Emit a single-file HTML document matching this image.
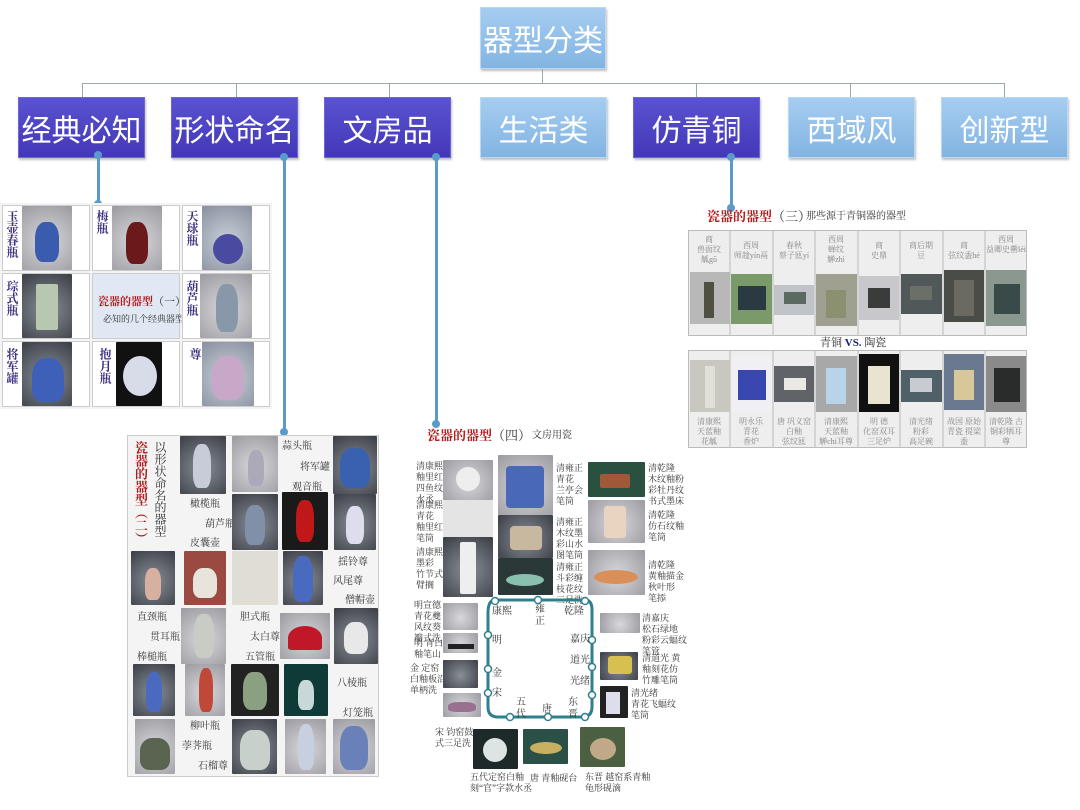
<!DOCTYPE html>
<html><head><meta charset="utf-8">
<style>
*{margin:0;padding:0;box-sizing:border-box}
body{width:1080px;height:810px;background:#fff;position:relative;overflow:hidden;font-family:"Liberation Serif","Noto Serif CJK SC","Noto Sans CJK SC",serif}
.a{position:absolute}
.bx{position:absolute;color:#fff;font-family:"Liberation Sans","Noto Sans CJK SC",sans-serif;font-size:30px;display:flex;align-items:center;justify-content:center;box-shadow:1px 2px 2px rgba(0,0,0,.25)}
.dk{background:linear-gradient(#5a52d0,#4338b8);border:1px solid #6d66d8}
.lt{background:linear-gradient(#a6cdf0,#82b4e2);border:1px solid #b8d8f4}
.ln{position:absolute;background:#5b9bc9}
.dot{position:absolute;width:8px;height:8px;border-radius:50%;background:#5b9bc9}
.p{position:absolute;border-radius:1px}
.g1{background:radial-gradient(circle at 50% 55%,#d8d8dc,#9a9aa0)}
.g2{background:radial-gradient(circle at 50% 55%,#8a8f98,#3a3d44)}
.g3{background:radial-gradient(circle at 50% 55%,#c8d0d8,#8890a0)}
.t{position:absolute;font-size:10px;color:#333;line-height:12px}
.v{writing-mode:vertical-rl;font-size:12px;line-height:13px;font-weight:bold;color:#3a3080}
.red{color:#b01c1c;font-weight:bold}
.cell{position:absolute;border:1px solid #ccc;background:#fff}
.sh{position:absolute;border-radius:40% 40% 30% 30%}
</style></head><body>
<div class="bx lt" style="left:480px;top:7px;width:126px;height:62px;font-size:30px">器型分类</div>
<div class="a" style="left:542px;top:69px;width:1px;height:14px;background:#9aa"></div>
<div class="a" style="left:82px;top:83px;width:922px;height:1px;background:#9aa"></div>
<div class="a" style="left:82px;top:83px;width:1px;height:14px;background:#9aa"></div>
<div class="a" style="left:236px;top:83px;width:1px;height:14px;background:#9aa"></div>
<div class="a" style="left:389px;top:83px;width:1px;height:14px;background:#9aa"></div>
<div class="a" style="left:696px;top:83px;width:1px;height:14px;background:#9aa"></div>
<div class="a" style="left:850px;top:83px;width:1px;height:14px;background:#9aa"></div>
<div class="a" style="left:1004px;top:83px;width:1px;height:14px;background:#9aa"></div>
<div class="bx dk" style="left:18px;top:97px;width:127px;height:61px">经典必知</div>
<div class="bx dk" style="left:171px;top:97px;width:127px;height:61px">形状命名</div>
<div class="bx dk" style="left:324px;top:97px;width:127px;height:61px">文房品</div>
<div class="bx lt" style="left:480px;top:97px;width:127px;height:61px">生活类</div>
<div class="bx dk" style="left:633px;top:97px;width:127px;height:61px">仿青铜</div>
<div class="bx lt" style="left:788px;top:97px;width:127px;height:61px">西域风</div>
<div class="bx lt" style="left:941px;top:97px;width:127px;height:61px">创新型</div>
<div class="ln" style="left:97px;top:155px;width:3px;height:50px"></div><div class="dot" style="left:94px;top:151px"></div><div class="dot" style="left:94px;top:200px"></div>
<div class="ln" style="left:283px;top:155px;width:3px;height:278px"></div><div class="dot" style="left:280px;top:153px"></div><div class="dot" style="left:280px;top:428px"></div>
<div class="ln" style="left:435px;top:155px;width:3px;height:270px"></div><div class="dot" style="left:432px;top:153px"></div><div class="dot" style="left:432px;top:420px"></div>
<div class="ln" style="left:730px;top:155px;width:3px;height:55px"></div><div class="dot" style="left:727px;top:153px"></div><div class="dot" style="left:727px;top:204px"></div>

<div class="a" style="left:0;top:203px;width:272px;height:206px;background:#f4f4f4"></div>
<div class="cell" style="left:2px;top:205px;width:88px;height:66px"></div><div class="p g1" style="left:22px;top:206px;width:50px;height:64px"></div><div class="t v" style="left:5px;top:210px">玉壶春瓶</div><div class="sh" style="left:35px;top:222px;width:24px;height:40px;background:#3a5cae"></div>
<div class="cell" style="left:92px;top:205px;width:88px;height:66px"></div><div class="p g1" style="left:112px;top:206px;width:50px;height:64px"></div><div class="t v" style="left:95px;top:210px">梅瓶</div><div class="sh" style="left:126px;top:222px;width:22px;height:42px;background:#6a1a1a"></div>
<div class="cell" style="left:182px;top:205px;width:88px;height:66px"></div><div class="p g3" style="left:202px;top:206px;width:50px;height:64px"></div><div class="t v" style="left:185px;top:210px">天球瓶</div><div class="sh" style="left:213px;top:234px;width:30px;height:30px;border-radius:50%;background:#4a4aa0"></div>
<div class="cell" style="left:2px;top:273px;width:88px;height:66px"></div><div class="p g2" style="left:22px;top:274px;width:50px;height:64px"></div><div class="t v" style="left:5px;top:280px">琮式瓶</div><div class="sh" style="left:36px;top:284px;width:22px;height:46px;border-radius:2px;background:#b8c8b0"></div>
<div class="cell" style="left:92px;top:273px;width:88px;height:66px;background:#dfe8f3"></div><div class="t red" style="left:98px;top:296px;font-size:11px">瓷器的器型<span style="color:#333;font-weight:normal">（一）</span></div><div class="t" style="left:103px;top:313px;font-size:9px">必知的几个经典器型</div>
<div class="cell" style="left:182px;top:273px;width:88px;height:66px"></div><div class="p g1" style="left:200px;top:274px;width:52px;height:64px"></div><div class="t v" style="left:185px;top:280px">葫芦瓶</div><div class="sh" style="left:216px;top:284px;width:22px;height:48px;background:#8898a8"></div>
<div class="cell" style="left:2px;top:341px;width:88px;height:66px"></div><div class="p g2" style="left:22px;top:342px;width:50px;height:64px"></div><div class="t v" style="left:5px;top:348px">将军罐</div><div class="sh" style="left:32px;top:358px;width:32px;height:44px;background:#3e60b8"></div>
<div class="cell" style="left:92px;top:341px;width:88px;height:66px"></div><div class="p g2" style="left:116px;top:342px;width:46px;height:64px;background:#111"></div><div class="t v" style="left:98px;top:348px">抱月瓶</div><div class="sh" style="left:123px;top:356px;width:34px;height:40px;border-radius:50%;background:#d8dce8"></div>
<div class="cell" style="left:182px;top:341px;width:88px;height:66px"></div><div class="p g3" style="left:202px;top:342px;width:52px;height:64px"></div><div class="t v" style="left:188px;top:348px">尊</div><div class="sh" style="left:212px;top:356px;width:32px;height:44px;background:#c8a8c8"></div>

<div class="a" style="left:127px;top:435px;width:252px;height:342px;background:#f4f4f4;border:1px solid #ccc"></div>
<div class="t red v" style="left:133px;top:441px;font-size:13px;line-height:15px;color:#b01c1c">瓷器的器型（二）</div>
<div class="t v" style="left:153px;top:441px;font-size:12px;line-height:14px;font-weight:normal;color:#333">以形状命名的器型</div>
<div class="p g2" style="left:180px;top:436px;width:46px;height:58px"></div><div class="sh" style="left:193px;top:444px;width:18px;height:44px;background:#c8ccd8"></div>
<div class="p g1" style="left:232px;top:436px;width:46px;height:56px"></div><div class="sh" style="left:248px;top:450px;width:16px;height:36px;background:#aab"></div>
<div class="t" style="left:282px;top:441px">蒜头瓶</div><div class="t" style="left:300px;top:462px">将军罐</div><div class="t" style="left:292px;top:482px">观音瓶</div>
<div class="p g2" style="left:333px;top:436px;width:44px;height:58px"></div><div class="sh" style="left:340px;top:448px;width:30px;height:40px;background:#3a60b0"></div>
<div class="t" style="left:190px;top:499px">橄榄瓶</div><div class="t" style="left:205px;top:519px">葫芦瓶</div><div class="t" style="left:190px;top:538px">皮囊壶</div>
<div class="p g2" style="left:232px;top:494px;width:46px;height:56px"></div><div class="sh" style="left:245px;top:505px;width:20px;height:40px;background:#8090a8"></div>
<div class="p" style="left:282px;top:492px;width:46px;height:58px;background:#1a1a1a"></div><div class="sh" style="left:296px;top:500px;width:18px;height:42px;background:#c01818"></div>
<div class="p g2" style="left:334px;top:494px;width:42px;height:56px"></div><div class="sh" style="left:346px;top:506px;width:18px;height:38px;background:#dde"></div>
<div class="p g2" style="left:131px;top:551px;width:44px;height:54px"></div><div class="sh" style="left:145px;top:568px;width:16px;height:32px;background:#d8b0a0"></div>
<div class="p" style="left:184px;top:551px;width:42px;height:54px;background:#9a4a40"></div><div class="sh" style="left:193px;top:568px;width:24px;height:30px;background:#e8e4dc"></div>
<div class="p g1" style="left:232px;top:551px;width:46px;height:54px;background:#e0ddd4"></div>
<div class="p g2" style="left:283px;top:551px;width:40px;height:54px"></div><div class="sh" style="left:293px;top:556px;width:20px;height:46px;background:#4a6ac0"></div>
<div class="t" style="left:338px;top:557px">揺铃尊</div><div class="t" style="left:333px;top:576px">风尾尊</div><div class="t" style="left:345px;top:595px">僧帽壶</div>
<div class="t" style="left:137px;top:612px">直颈瓶</div><div class="t" style="left:150px;top:632px">贯耳瓶</div><div class="t" style="left:137px;top:652px">棒槌瓶</div>
<div class="p g1" style="left:181px;top:608px;width:45px;height:56px"></div><div class="sh" style="left:194px;top:614px;width:20px;height:44px;background:#c8ccc4"></div>
<div class="t" style="left:240px;top:612px">胆式瓶</div><div class="t" style="left:250px;top:632px">太白尊</div><div class="t" style="left:245px;top:652px">五管瓶</div>
<div class="p g1" style="left:280px;top:613px;width:50px;height:46px"></div><div class="sh" style="left:288px;top:626px;width:34px;height:24px;border-radius:50% 50% 10% 10%;background:#c01828"></div>
<div class="p g2" style="left:334px;top:608px;width:44px;height:56px"></div><div class="sh" style="left:344px;top:622px;width:24px;height:32px;background:#e8e8e8"></div>
<div class="p g2" style="left:133px;top:664px;width:42px;height:52px"></div><div class="sh" style="left:146px;top:672px;width:16px;height:40px;background:#4a6ac0"></div>
<div class="p g1" style="left:185px;top:664px;width:40px;height:52px"></div><div class="sh" style="left:199px;top:668px;width:14px;height:44px;background:#c04838"></div>
<div class="p" style="left:231px;top:664px;width:48px;height:52px;background:#222"></div><div class="sh" style="left:243px;top:672px;width:24px;height:38px;background:#8aa080"></div>
<div class="p" style="left:284px;top:664px;width:44px;height:52px;background:#0e3a38"></div><div class="sh" style="left:298px;top:680px;width:16px;height:30px;background:#c8d8d8"></div>
<div class="t" style="left:337px;top:678px">八棱瓶</div><div class="t" style="left:343px;top:708px">灯笼瓶</div>
<div class="p g1" style="left:135px;top:719px;width:40px;height:55px"></div><div class="sh" style="left:140px;top:738px;width:30px;height:32px;background:#5a6450"></div>
<div class="t" style="left:190px;top:721px">柳叶瓶</div><div class="t" style="left:182px;top:741px">荸荠瓶</div><div class="t" style="left:198px;top:761px">石榴尊</div>
<div class="p g2" style="left:232px;top:719px;width:45px;height:55px"></div><div class="sh" style="left:240px;top:730px;width:30px;height:40px;background:#c8d0cc"></div>
<div class="p g1" style="left:285px;top:719px;width:41px;height:55px"></div><div class="sh" style="left:298px;top:724px;width:16px;height:46px;background:#c8d0e0"></div>
<div class="p g1" style="left:333px;top:719px;width:42px;height:55px"></div><div class="sh" style="left:340px;top:726px;width:28px;height:44px;background:#6a80b8"></div>

<div class="t red" style="left:707px;top:209px;font-size:13px;line-height:15px">瓷器的器型<span style="color:#333;font-weight:normal">（三）</span></div>
<div class="t" style="left:806px;top:211px;font-size:10px">那些源于青铜器的器型</div>
<div class="a" style="left:688px;top:230px;width:339px;height:106px;background:#eee;border:1px solid #bbb"></div>
<div class="a" style="left:688px;top:350px;width:339px;height:98px;background:#eee;border:1px solid #bbb"></div>
<div class="t" style="left:820px;top:337px;font-size:11px">青铜 <b style="color:#1a2080">VS.</b> 陶瓷</div>
<svg class="a" style="left:688px;top:230px" width="340" height="220">
<g fill="#888" font-size="8" text-anchor="middle" font-family="Liberation Serif,Noto Serif CJK SC,serif">
<text x="21" y="12">商</text><text x="21" y="22">兽面纹</text><text x="21" y="32">觚gū</text>
<text x="63" y="18">西周</text><text x="63" y="28">师趛yín鬲</text>
<text x="106" y="18">春秋</text><text x="106" y="28">蔡子匜yí</text>
<text x="148" y="12">西周</text><text x="148" y="22">蝉纹</text><text x="148" y="32">觯zhì</text>
<text x="191" y="18">商</text><text x="191" y="28">史鼎</text>
<text x="233" y="18">商后期</text><text x="233" y="28">豆</text>
<text x="276" y="18">商</text><text x="276" y="28">弦纹盉hé</text>
<text x="318" y="12">西周</text><text x="318" y="22">益卿史罍léi</text>
<text x="21" y="194">清康熙</text><text x="21" y="204">天蓝釉</text><text x="21" y="214">花觚</text>
<text x="63" y="194">明永乐</text><text x="63" y="204">青花</text><text x="63" y="214">香炉</text>
<text x="106" y="194">唐 巩义窑</text><text x="106" y="204">白釉</text><text x="106" y="214">弦纹匜</text>
<text x="148" y="194">清康熙</text><text x="148" y="204">天蓝釉</text><text x="148" y="214">觯chi耳尊</text>
<text x="191" y="194">明 德</text><text x="191" y="204">化窑双耳</text><text x="191" y="214">三足炉</text>
<text x="233" y="194">清光绪</text><text x="233" y="204">粉彩</text><text x="233" y="214">高足碗</text>
<text x="276" y="194">战国 原始</text><text x="276" y="204">青瓷 提梁</text><text x="276" y="214">盉</text>
<text x="318" y="194">清乾隆 古</text><text x="318" y="204">铜彩牺耳</text><text x="318" y="214">尊</text>
</g>
<g stroke="#bbb" stroke-width="1">
<line x1="42" y1="0" x2="42" y2="106"/><line x1="85" y1="0" x2="85" y2="106"/><line x1="127" y1="0" x2="127" y2="106"/><line x1="170" y1="0" x2="170" y2="106"/><line x1="212" y1="0" x2="212" y2="106"/><line x1="255" y1="0" x2="255" y2="106"/><line x1="297" y1="0" x2="297" y2="106"/>
<line x1="42" y1="120" x2="42" y2="218"/><line x1="85" y1="120" x2="85" y2="218"/><line x1="127" y1="120" x2="127" y2="218"/><line x1="170" y1="120" x2="170" y2="218"/><line x1="212" y1="120" x2="212" y2="218"/><line x1="255" y1="120" x2="255" y2="218"/><line x1="297" y1="120" x2="297" y2="218"/>
</g>
<rect x="2" y="42" width="40" height="52" fill="#b8b8b8"/><rect x="16" y="52" width="10" height="36" fill="#505040"/>
<rect x="43" y="44" width="41" height="50" fill="#7a9a6a"/><rect x="50" y="56" width="28" height="24" fill="#2a3a40"/>
<rect x="86" y="55" width="40" height="30" fill="#c0c4c8"/><rect x="96" y="62" width="22" height="12" fill="#5a6a60"/>
<rect x="128" y="44" width="41" height="52" fill="#a0a090"/><rect x="138" y="60" width="20" height="28" fill="#8a9070"/>
<rect x="171" y="46" width="40" height="44" fill="#c8c8cc"/><rect x="180" y="58" width="22" height="20" fill="#3a3c3c"/>
<rect x="213" y="44" width="41" height="40" fill="#50585a"/><rect x="222" y="56" width="22" height="14" fill="#6a7068"/>
<rect x="256" y="40" width="40" height="52" fill="#4a4c48"/><rect x="266" y="50" width="20" height="36" fill="#6a6a60"/>
<rect x="298" y="40" width="40" height="56" fill="#8a9890"/><rect x="306" y="54" width="26" height="30" fill="#3a4a48"/>
<rect x="2" y="130" width="40" height="52" fill="#c8c8c0"/><rect x="17" y="136" width="10" height="42" fill="#e0e0d8"/>
<rect x="43" y="126" width="41" height="56" fill="#f0f0f4"/><rect x="50" y="140" width="28" height="30" fill="#3848b0"/>
<rect x="86" y="136" width="40" height="36" fill="#606468"/><rect x="96" y="148" width="22" height="12" fill="#e8e8e4"/>
<rect x="128" y="126" width="41" height="56" fill="#a8a8a8"/><rect x="138" y="138" width="20" height="36" fill="#b8d4e8"/>
<rect x="171" y="124" width="40" height="58" fill="#111"/><rect x="180" y="136" width="22" height="38" fill="#e8e4d0"/>
<rect x="213" y="140" width="41" height="32" fill="#506068"/><rect x="222" y="148" width="22" height="14" fill="#c8ccd0"/>
<rect x="256" y="124" width="40" height="56" fill="#6a7890"/><rect x="266" y="140" width="20" height="30" fill="#d8c898"/>
<rect x="298" y="126" width="40" height="56" fill="#8a8a8a"/><rect x="306" y="138" width="26" height="34" fill="#2a2c2c"/>
</svg>

<div class="t red" style="left:427px;top:428px;font-size:13px;line-height:15px">瓷器的器型<span style="color:#333;font-weight:normal">（四）</span></div>
<div class="t" style="left:532px;top:430px;font-size:10px">文房用瓷</div>
<div class="p g1" style="left:443px;top:460px;width:50px;height:40px"></div><div class="sh" style="left:456px;top:467px;width:24px;height:24px;border-radius:50%;background:#eee"></div>
<div class="p g1" style="left:443px;top:500px;width:50px;height:37px;background:#e4e4e4"></div>
<div class="p g2" style="left:443px;top:537px;width:50px;height:60px"></div><div class="sh" style="left:460px;top:542px;width:16px;height:52px;border-radius:2px;background:#eee"></div>
<div class="p g1" style="left:498px;top:455px;width:55px;height:60px"></div><div class="sh" style="left:506px;top:466px;width:38px;height:42px;border-radius:4px;background:#4a68b8"></div>
<div class="p g2" style="left:498px;top:515px;width:55px;height:43px"></div><div class="sh" style="left:510px;top:526px;width:32px;height:24px;border-radius:4px;background:#c8b8a0"></div>
<div class="p" style="left:498px;top:558px;width:55px;height:37px;background:#2a3838"></div><div class="sh" style="left:506px;top:574px;width:38px;height:12px;border-radius:50%;background:#8ac0b0"></div>
<div class="p" style="left:588px;top:462px;width:57px;height:35px;background:#2a5040"></div><div class="sh" style="left:600px;top:474px;width:30px;height:14px;border-radius:2px;background:#a05838"></div>
<div class="p g1" style="left:588px;top:500px;width:57px;height:43px"></div><div class="sh" style="left:604px;top:506px;width:22px;height:32px;border-radius:3px;background:#e8d4c0"></div>
<div class="p g1" style="left:588px;top:550px;width:57px;height:45px"></div><div class="sh" style="left:594px;top:570px;width:44px;height:14px;border-radius:50%;background:#d89058"></div>
<div class="t" style="left:416px;top:461px;font-size:9px;line-height:11px">清康熙<br>釉里红<br>四鱼纹<br>水丞</div>
<div class="t" style="left:416px;top:500px;font-size:9px;line-height:11px">清康熙<br>青花<br>釉里红<br>笔筒</div>
<div class="t" style="left:416px;top:547px;font-size:9px;line-height:11px">清康熙<br>墨彩<br>竹节式<br>臂搁</div>
<div class="t" style="left:556px;top:463px;font-size:9px;line-height:11px">清雍正<br>青花<br>兰亭会<br>笔筒</div>
<div class="t" style="left:556px;top:517px;font-size:9px;line-height:11px">清雍正<br>木纹墨<br>彩山水<br>图笔筒</div>
<div class="t" style="left:556px;top:562px;font-size:9px;line-height:11px">清雍正<br>斗彩缠<br>枝花纹<br>三足洗</div>
<div class="t" style="left:648px;top:463px;font-size:9px;line-height:11px">清乾隆<br>木纹釉粉<br>彩牡丹纹<br>书式墨床</div>
<div class="t" style="left:648px;top:510px;font-size:9px;line-height:11px">清乾隆<br>仿石纹釉<br>笔筒</div>
<div class="t" style="left:648px;top:560px;font-size:9px;line-height:11px">清乾隆<br>黄釉描金<br>秋叶形<br>笔掭</div>
<div class="t" style="left:414px;top:600px;font-size:9px;line-height:11px">明宣德<br>青花夔<br>风纹葵<br>瓣式洗</div>
<div class="t" style="left:414px;top:638px;font-size:9px;line-height:11px">明 青白<br>釉笔山</div>
<div class="t" style="left:410px;top:663px;font-size:9px;line-height:11px">金 定窑<br>白釉板沿<br>单柄洗</div>
<div class="t" style="left:435px;top:727px;font-size:9px;line-height:11px">宋 钧窑鼓<br>式三足洗</div>
<div class="p g1" style="left:443px;top:603px;width:35px;height:27px"></div>
<div class="p g1" style="left:443px;top:633px;width:35px;height:20px"></div><div class="a" style="left:448px;top:644px;width:26px;height:5px;background:#222"></div>
<div class="p g2" style="left:443px;top:660px;width:35px;height:28px"></div>
<div class="p g1" style="left:443px;top:693px;width:38px;height:24px"></div><div class="sh" style="left:448px;top:702px;width:28px;height:10px;background:#9a7090"></div>
<svg class="a" style="left:480px;top:595px" width="125" height="130">
<path d="M15 5 H105 Q112 5 112 15 V112 Q112 122 102 122 H18 Q8 122 8 112 V18 Q8 5 15 5" fill="none" stroke="#2f7f8c" stroke-width="3"/>
<g fill="#fff" stroke="#2f7f8c" stroke-width="1.5"><circle cx="15" cy="6" r="3.5"/><circle cx="58" cy="5" r="3.5"/><circle cx="105" cy="6" r="3.5"/><circle cx="112" cy="45" r="3.5"/><circle cx="112" cy="72" r="3.5"/><circle cx="112" cy="100" r="3.5"/><circle cx="8" cy="40" r="3.5"/><circle cx="8" cy="74" r="3.5"/><circle cx="8" cy="98" r="3.5"/><circle cx="30" cy="122" r="3.5"/><circle cx="68" cy="122" r="3.5"/><circle cx="105" cy="122" r="3.5"/></g>
</svg>
<div class="t" style="left:492px;top:606px">康熙</div><div class="t" style="left:535px;top:604px;width:10px">雍正</div><div class="t" style="left:564px;top:606px">乾隆</div>
<div class="t" style="left:492px;top:635px">明</div><div class="t" style="left:570px;top:634px">嘉庆</div><div class="t" style="left:570px;top:655px">道光</div><div class="t" style="left:570px;top:676px">光绪</div>
<div class="t" style="left:492px;top:668px">金</div><div class="t" style="left:492px;top:688px">宋</div>
<div class="t" style="left:516px;top:697px;width:10px">五代</div><div class="t" style="left:542px;top:704px">唐</div><div class="t" style="left:568px;top:697px;width:10px">东晋</div>
<div class="p g1" style="left:600px;top:613px;width:40px;height:20px"></div>
<div class="p g2" style="left:600px;top:652px;width:38px;height:28px"></div><div class="sh" style="left:608px;top:656px;width:24px;height:18px;border-radius:3px;background:#d8c050"></div>
<div class="p" style="left:600px;top:686px;width:28px;height:32px;background:#222"></div><div class="a" style="left:606px;top:692px;width:14px;height:22px;background:#dde"></div>
<div class="t" style="left:642px;top:613px;font-size:9px;line-height:11px">清嘉庆<br>松石绿地<br>粉彩云蝠纹<br>笔管</div>
<div class="t" style="left:642px;top:653px;font-size:9px;line-height:11px">清道光 黄<br>釉刻花仿<br>竹雕笔筒</div>
<div class="t" style="left:631px;top:688px;font-size:9px;line-height:11px">清光绪<br>青花飞蝠纹<br>笔筒</div>
<div class="p" style="left:473px;top:729px;width:45px;height:40px;background:#1e2a2a"></div><div class="sh" style="left:483px;top:738px;width:24px;height:24px;border-radius:50%;background:#dde4e4"></div>
<div class="p" style="left:523px;top:729px;width:45px;height:35px;background:#2a5048"></div><div class="sh" style="left:530px;top:742px;width:32px;height:12px;border-radius:50%;background:#c8b060"></div>
<div class="p" style="left:580px;top:727px;width:45px;height:40px;background:#4a6040"></div><div class="sh" style="left:590px;top:738px;width:26px;height:22px;border-radius:50%;background:#c0a888"></div>
<div class="t" style="left:470px;top:772px;font-size:9px;line-height:11px">五代定窑白釉<br>刻“官”字款水丞</div>
<div class="t" style="left:530px;top:772px;font-size:9px">唐 青釉砚台</div>
<div class="t" style="left:585px;top:772px;font-size:9px;line-height:11px">东晋 越窑系青釉<br>龟形砚滴</div>
</body></html>
